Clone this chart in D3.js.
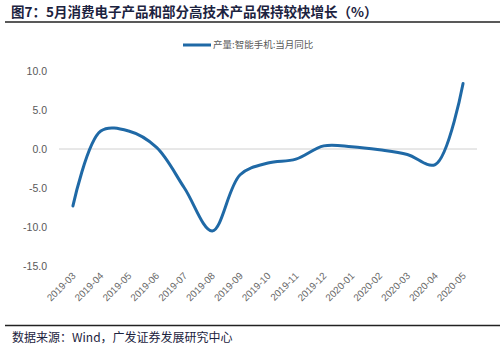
<!DOCTYPE html>
<html>
<head>
<meta charset="utf-8">
<script src="https://cdn.jsdelivr.net/npm/d3@7"></script>
<style>
  body { margin: 0; background: #fff; }
  svg { display: block; }
</style>
</head>
<body>
<div id="chart"></div>
<script>
let width = 504;
let height = 351;

// monthly categories and values (产量:智能手机:当月同比, %)
let months = ["2019-03", "2019-04", "2019-05", "2019-06", "2019-07", "2019-08", "2019-09", "2019-10",
              "2019-11", "2019-12", "2020-01", "2020-02", "2020-03", "2020-04", "2020-05"];
let values = [-7.3, 2.3, 2.3, 0.2, -5.0, -10.5, -3.3, -1.8, -1.3, 0.4, 0.3, -0.1, -0.7, -2.0, 8.4];
let y_ticks = [10, 5, 0, -5, -10, -15];

let title_text = "图7：5月消费电子产品和部分高技术产品保持较快增长（%）";
let legend_text = "产量:智能手机:当月同比";
let source_text = "数据来源：Wind，广发证券发展研究中心";

let svg = d3.select("#chart").append("svg")
  .attr("width", width)
  .attr("height", height);

let margin = {left: 59, right: 27, top: 71, bottom: 85};

let x = d3.scalePoint()
  .domain(months)
  .range([margin.left, width - margin.right])
  .padding(0.5);

let y = d3.scaleLinear()
  .domain([-15, 10])
  .range([height - margin.bottom, margin.top]);

// title and rule
svg.append("text")
  .attr("x", 11)
  .attr("y", 17)
  .attr("font-family", "'Noto Sans CJK SC', sans-serif")
  .attr("font-weight", "bold")
  .attr("font-size", 13.5)
  .attr("fill", "#1c2340")
  .text(title_text);

svg.append("line")
  .attr("x1", 5).attr("x2", 500)
  .attr("y1", 22).attr("y2", 22)
  .attr("stroke", "#222").attr("stroke-width", 1.3);

// zero line
svg.append("line")
  .attr("x1", margin.left).attr("x2", width - margin.right)
  .attr("y1", y(0)).attr("y2", y(0))
  .attr("stroke", "#d0d0d0").attr("stroke-width", 1);

// y axis labels
svg.append("g")
  .selectAll("text")
  .data(y_ticks)
  .enter().append("text")
    .attr("x", 47)
    .attr("y", d => y(d))
    .attr("dy", "0.35em")
    .attr("text-anchor", "end")
    .attr("font-family", "Arial, 'Liberation Sans', sans-serif")
    .attr("font-size", 10.5)
    .attr("fill", "#595959")
    .text(d => d.toFixed(1));

// x axis labels, rotated
svg.append("g")
  .selectAll("text")
  .data(months)
  .enter().append("text")
    .attr("transform", d => "translate(" + (x(d) + 1) + "," + 274 + ") rotate(-45)")
    .attr("text-anchor", "end")
    .attr("dy", "0.35em")
    .attr("font-family", "Arial, 'Liberation Sans', sans-serif")
    .attr("font-size", 9.8)
    .attr("fill", "#666")
    .text(d => d);

// the series
let line = d3.line()
  .x((d, i) => x(months[i]))
  .y(d => y(d))
  .curve(d3.curveCatmullRom.alpha(0.5));

svg.append("path")
  .datum(values)
  .attr("d", line)
  .attr("fill", "none")
  .attr("stroke", "#1f69a6")
  .attr("stroke-width", 3)
  .attr("stroke-linecap", "round");

// legend
svg.append("line")
  .attr("x1", 183).attr("x2", 211)
  .attr("y1", 45).attr("y2", 45)
  .attr("stroke", "#1f69a6").attr("stroke-width", 3);

svg.append("text")
  .attr("x", 213)
  .attr("y", 45)
  .attr("dy", "0.35em")
  .attr("font-family", "'Noto Sans CJK SC', sans-serif")
  .attr("font-size", 9.5)
  .attr("fill", "#595959")
  .text(legend_text);

// footer
svg.append("line")
  .attr("x1", 5).attr("x2", 500)
  .attr("y1", 325.5).attr("y2", 325.5)
  .attr("stroke", "#222").attr("stroke-width", 1.3);

svg.append("text")
  .attr("x", 12)
  .attr("y", 342)
  .attr("font-family", "'Noto Sans CJK SC', sans-serif")
  .attr("font-size", 12)
  .attr("fill", "#1c2340")
  .text(source_text);
</script>
</body>
</html>
